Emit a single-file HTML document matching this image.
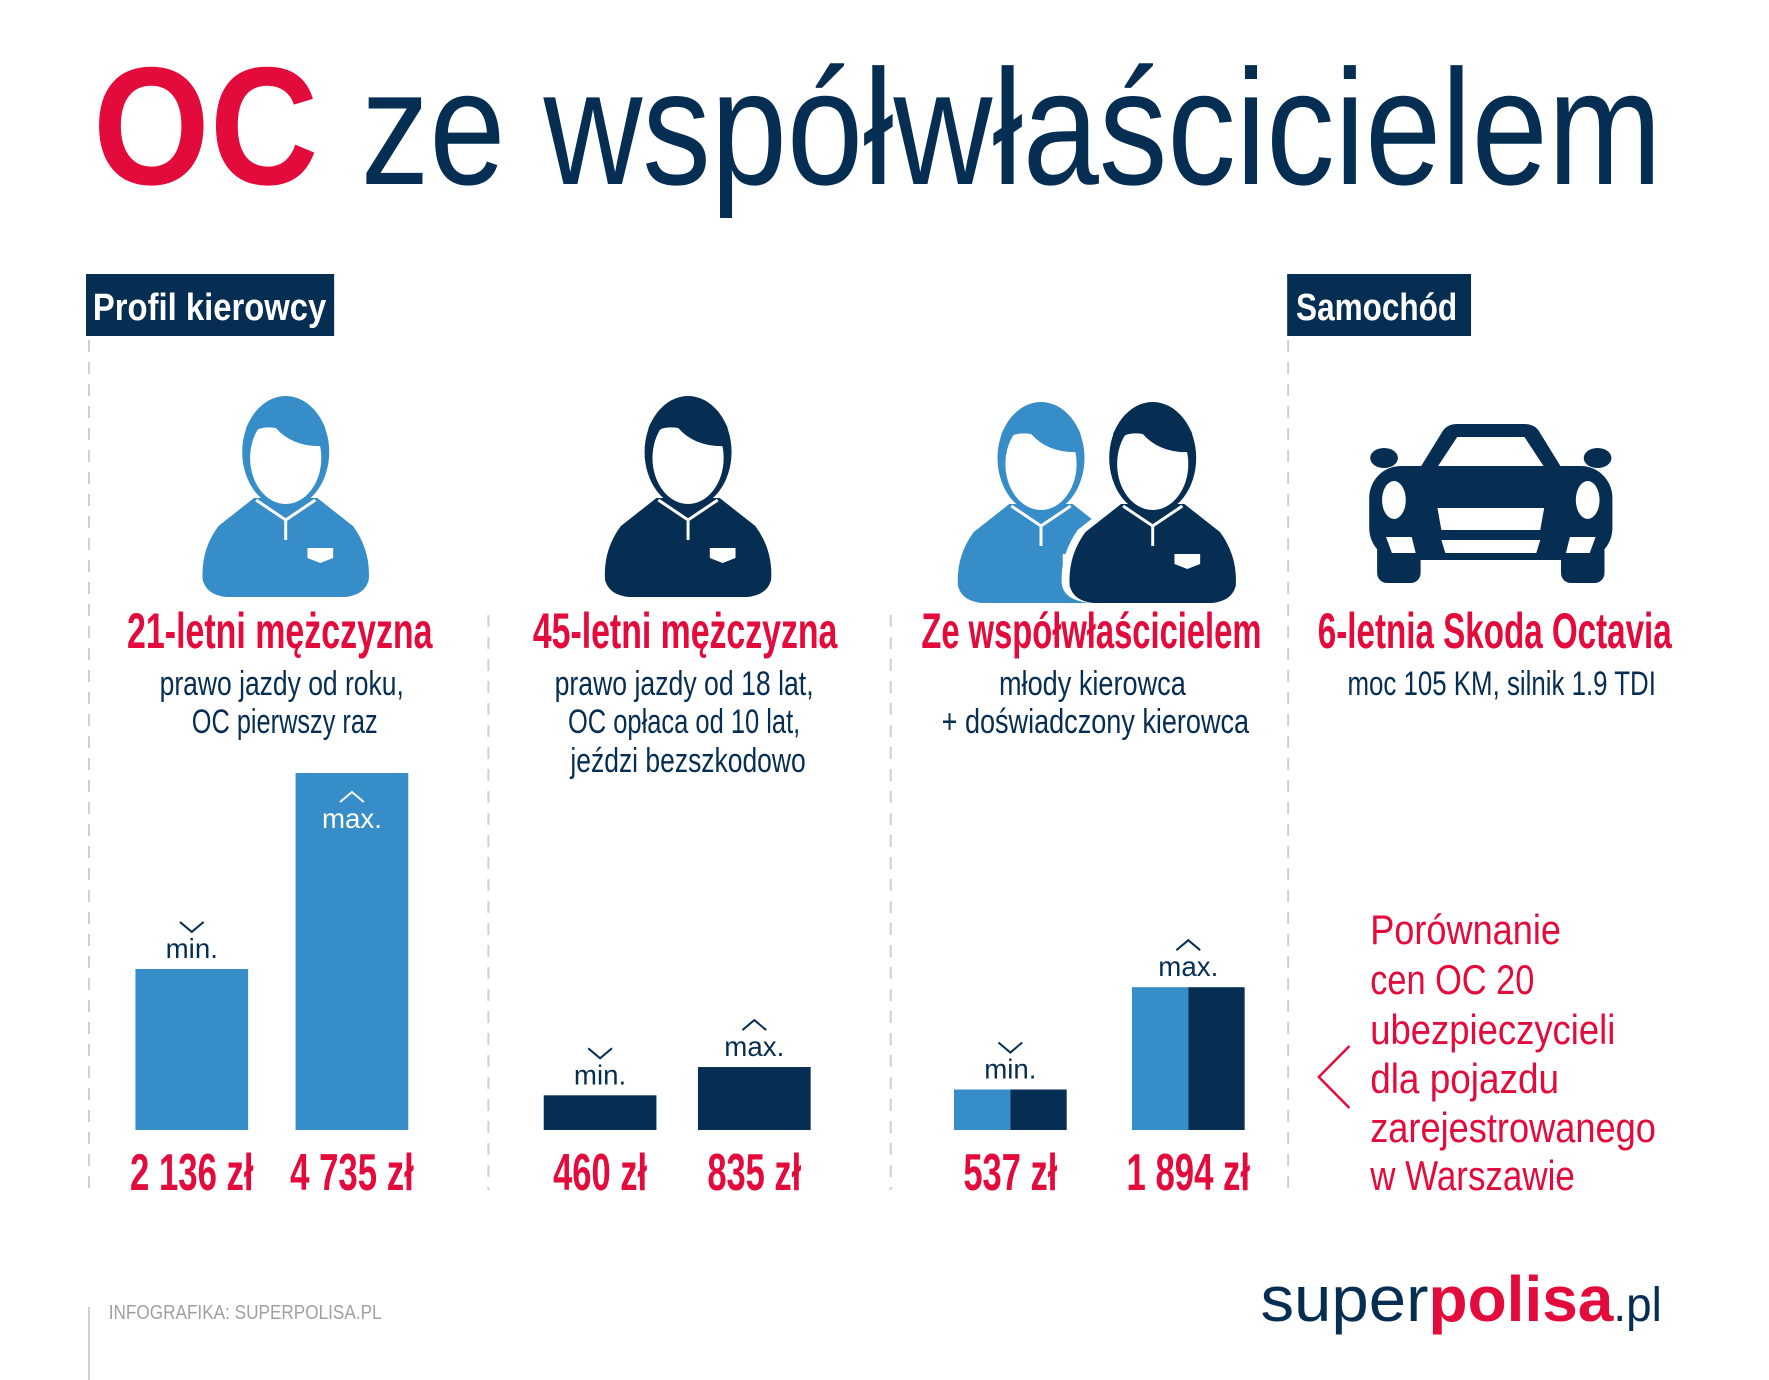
<!DOCTYPE html>
<html><head><meta charset="utf-8"><style>
html,body{margin:0;padding:0;background:#fff}
svg{display:block}
text{font-family:"Liberation Sans Narrow","Liberation Sans",sans-serif}
</style></head><body>
<svg id="chart" width="1769" height="1380" viewBox="0 0 1769 1380" xmlns="http://www.w3.org/2000/svg">
<defs>
<clipPath id="hc"><ellipse cx="0" cy="0" rx="45" ry="53"/></clipPath>
<g id="person">
  <path d="M-32,98 L32,98 L68,126 Q86,150 84,180 Q80,195 60,197 L-60,197 Q-80,195 -84,180 Q-86,150 -68,126 Z" fill="currentColor"/>
  <path d="M-30,100 L0,120 L30,100" fill="none" stroke="#fff" stroke-width="3"/>
  <line x1="0" y1="120" x2="0" y2="140" stroke="#fff" stroke-width="3"/>
  <path d="M22,148 L48,148 L48,158 L35,163 L22,158 Z" fill="#fff"/>
  <g transform="translate(0,52)">
    <ellipse cx="0" cy="0" rx="44" ry="56" fill="currentColor"/>
    <ellipse cx="0" cy="6" rx="36" ry="46" fill="#fff"/>
    <path d="M-40,-8 Q-34,-28 -10,-24 Q8,-4 40,-6 L40,-60 L-40,-60 Z" fill="currentColor" clip-path="url(#hc)"/>
  </g>
</g>
</defs>
<g transform="scale(0.9886,1)">
<text x="94" y="184" font-size="168" font-weight="bold" fill="#e30b3c" style="font-family:'Liberation Sans',sans-serif" textLength="228" lengthAdjust="spacingAndGlyphs">OC</text>
<text x="365" y="184" font-size="164" fill="#062e52" style="font-family:'Liberation Sans',sans-serif" textLength="1316" lengthAdjust="spacingAndGlyphs">ze współwłaścicielem</text>

<g>
<rect x="87" y="274" width="251" height="62" fill="#062e52"/>
<text x="94" y="320" font-size="38" font-weight="bold" fill="#fff" textLength="236" lengthAdjust="spacingAndGlyphs">Profil kierowcy</text>
</g>
<g>
<rect x="1302" y="274" width="186" height="62" fill="#062e52"/>
<text x="1311" y="320" font-size="38" font-weight="bold" fill="#fff" textLength="163" lengthAdjust="spacingAndGlyphs">Samochód</text>
</g>

<g stroke="#cfcfcf" stroke-width="2" stroke-dasharray="12,10">
<line x1="90" y1="340" x2="90" y2="1190"/>
<line x1="494" y1="615" x2="494" y2="1190"/>
<line x1="901" y1="615" x2="901" y2="1190"/>
<line x1="1303" y1="340" x2="1303" y2="1190"/>
</g>
<line x1="90" y1="1307" x2="90" y2="1380" stroke="#cfcfcf" stroke-width="2"/>

<use href="#person" transform="translate(289,400)" style="color:#378dc8"/>
<use href="#person" transform="translate(696,400)" style="color:#062e52"/>
<use href="#person" transform="translate(1053,406)" style="color:#378dc8"/>
<g>
<path d="M1166,500 m-36,2 L1202,502 L1242,530 Q1260,556 1256,584 Q1250,602 1226,603 L1106,603 Q1080,600 1078,584 Q1076,556 1094,530 Z" fill="#fff" transform="translate(-4,0)"/>
<use href="#person" transform="translate(1166,406)" style="color:#062e52"/>
</g>

<g fill="#062e52">
<path d="M1432,475 L1460,430 Q1465,424 1474,424 L1542,424 Q1551,424 1556,430 L1584,475 Z"/>
<path d="M1452,470 L1474,437 L1542,437 L1564,470 Z" fill="#fff"/>
<ellipse cx="1400" cy="458" rx="14" ry="10"/>
<ellipse cx="1616" cy="458" rx="14" ry="10"/>
<rect x="1385" y="466" width="246" height="94" rx="32"/>
<rect x="1393" y="540" width="44" height="43" rx="10"/>
<rect x="1579" y="540" width="44" height="43" rx="10"/>
<ellipse cx="1410" cy="500" rx="12" ry="19" fill="#fff"/>
<ellipse cx="1606" cy="500" rx="12" ry="19" fill="#fff"/>
<path d="M1454,508 L1562,508 L1558,530 L1458,530 Z" fill="#fff"/>
<path d="M1458,540 L1558,540 L1554,553 L1462,553 Z" fill="#fff"/>
<path d="M1402,537 L1428,537 L1432,553 L1408,553 Z" fill="#fff"/>
<path d="M1588,537 L1614,537 L1608,553 L1584,553 Z" fill="#fff"/>
</g>

<g font-weight="bold" fill="#e30b3c" font-size="50" text-anchor="middle">
<text x="283" y="648" textLength="309" lengthAdjust="spacingAndGlyphs">21-letni mężczyzna</text>
<text x="693" y="648" textLength="308" lengthAdjust="spacingAndGlyphs">45-letni mężczyzna</text>
<text x="1104" y="648" textLength="344" lengthAdjust="spacingAndGlyphs">Ze współwłaścicielem</text>
<text x="1512" y="648" textLength="358" lengthAdjust="spacingAndGlyphs">6-letnia Skoda Octavia</text>
</g>
<g fill="#062e52" font-size="34" text-anchor="middle">
<text x="285" y="695" textLength="247" lengthAdjust="spacingAndGlyphs">prawo jazdy od roku,</text>
<text x="288" y="733" textLength="188" lengthAdjust="spacingAndGlyphs">OC pierwszy raz</text>
<text x="692" y="695" textLength="262" lengthAdjust="spacingAndGlyphs">prawo jazdy od 18 lat,</text>
<text x="692" y="733" textLength="235" lengthAdjust="spacingAndGlyphs">OC opłaca od 10 lat,</text>
<text x="696" y="772" textLength="238" lengthAdjust="spacingAndGlyphs">jeździ bezszkodowo</text>
<text x="1105" y="695" textLength="189" lengthAdjust="spacingAndGlyphs">młody kierowca</text>
<text x="1108" y="733" textLength="311" lengthAdjust="spacingAndGlyphs">+ doświadczony kierowca</text>
<text x="1519" y="695" textLength="312" lengthAdjust="spacingAndGlyphs">moc 105 KM, silnik 1.9 TDI</text>
</g>

<g id="bars"></g>

<g fill="#e30b3c" font-size="42">
<text x="1386" y="944" textLength="193" lengthAdjust="spacingAndGlyphs">Porównanie</text>
<text x="1386" y="994" textLength="166" lengthAdjust="spacingAndGlyphs">cen OC 20</text>
<text x="1386" y="1044" textLength="248" lengthAdjust="spacingAndGlyphs">ubezpieczycieli</text>
<text x="1386" y="1093" textLength="191" lengthAdjust="spacingAndGlyphs">dla pojazdu</text>
<text x="1386" y="1142" textLength="289" lengthAdjust="spacingAndGlyphs">zarejestrowanego</text>
<text x="1386" y="1190" textLength="207" lengthAdjust="spacingAndGlyphs">w Warszawie</text>
</g>
<polyline points="1365,1046 1334,1077 1365,1108" fill="none" stroke="#e30b3c" stroke-width="2.5"/>

<text x="110" y="1319" font-size="20" fill="#a0a0a0" textLength="276" lengthAdjust="spacingAndGlyphs">INFOGRAFIKA: SUPERPOLISA.PL</text>
<g style="font-family:'Liberation Sans',sans-serif" font-size="64">
<text x="1275" y="1321" fill="#062e52" textLength="170" lengthAdjust="spacingAndGlyphs">super</text>
<text x="1445" y="1321" fill="#e30b3c" font-weight="bold" textLength="187" lengthAdjust="spacingAndGlyphs">polisa</text>
<text x="1632" y="1321" fill="#062e52" font-size="48" textLength="49" lengthAdjust="spacingAndGlyphs">.pl</text>
</g>
</g>
</svg>
<script>
const categories = ["21-letni mężczyzna", "45-letni mężczyzna", "Ze współwłaścicielem"];
const minValues = [2136, 460, 537];
const maxValues = [4735, 835, 1894];
const minLabels = ["2 136 zł", "460 zł", "537 zł"];
const maxLabels = ["4 735 zł", "835 zł", "1 894 zł"];

const NS = "http://www.w3.org/2000/svg";
const layout = { groupCenters: [275, 685, 1112], offsets: [81, 78, 90], barW: 114, base: 1130, yMax: 4735, hMax: 357 };
const light = "#378dc8", dark = "#062e52", red = "#e30b3c";
function yScale(v) { return layout.base - v / layout.yMax * layout.hMax; }
const g = document.getElementById("bars");
function mk(tag, attrs) { const e = document.createElementNS(NS, tag); for (const k in attrs) e.setAttribute(k, attrs[k]); g.appendChild(e); return e; }
function drawBar(gi, cx, v, label, kind) {
  const top = yScale(v), x = cx - layout.barW / 2, h = layout.base - top;
  if (gi === 2) {
    const a = mk("rect", { x: x, y: top, width: layout.barW / 2, height: h, fill: light });
    
    
    const b = mk("rect", { x: cx, y: top, width: layout.barW / 2, height: h, fill: dark });
    
    
  } else {
    const r = mk("rect", { x: x, y: top, width: layout.barW, height: h, fill: gi === 0 ? light : dark });
    
    
  }
  const inside = top - 90 < 700;
  const ty = inside ? top + 55 : top - 11;
  const col = inside ? "#fff" : dark;
  const t = mk("text", { x: cx, y: ty, "font-size": 28, fill: col, "text-anchor": "middle", style: "font-family:'Liberation Sans',sans-serif" });
  t.textContent = kind + ".";
  
  
  const cy = ty - 36;
  const pts = kind === "min" ? `${cx-12},${cy} ${cx},${cy+10} ${cx+12},${cy}` : `${cx-12},${cy+10} ${cx},${cy} ${cx+12},${cy+10}`;
  const p = mk("polyline", { points: pts, fill: "none", stroke: col, "stroke-width": 2 });
  
  
  const vt = mk("text", { x: cx, y: 1190, "font-size": 52, "font-weight": "bold", fill: red, "text-anchor": "middle", textLength: label.length * 15 + 5, lengthAdjust: "spacingAndGlyphs" });
  vt.textContent = label;
  
  
}
categories.forEach((c, i) => {
  const gc = layout.groupCenters[i], o = layout.offsets[i];
  drawBar(i, gc - o, minValues[i], minLabels[i], "min");
  drawBar(i, gc + o, maxValues[i], maxLabels[i], "max");
});
</script>
</body></html>
